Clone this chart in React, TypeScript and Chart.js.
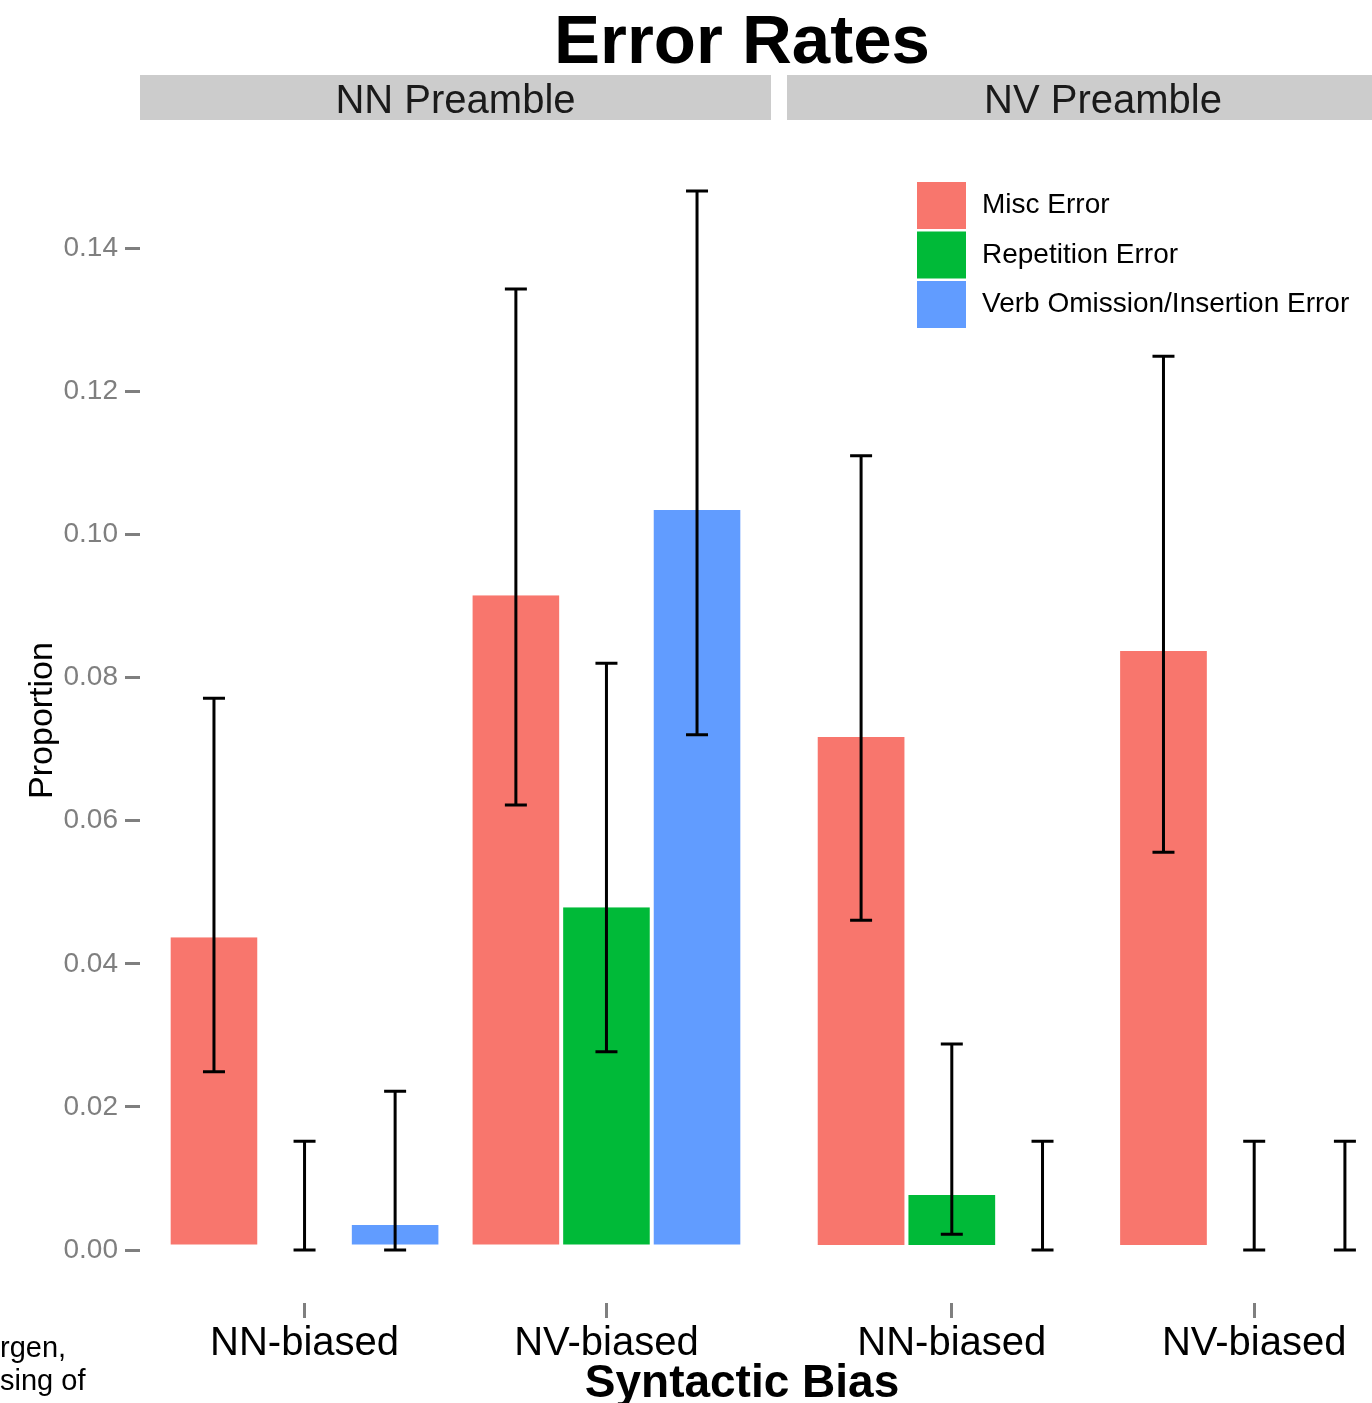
import React, { useEffect, useRef } from 'react';
import { Chart, registerables } from 'chart.js';

Chart.register(...registerables);

// ---------- data ----------
const chartTitle = 'Error Rates';
const xTitle = 'Syntactic Bias';
const yTitle = 'Proportion';
const categories = ['NN-biased', 'NV-biased'];
const facets = ['NN Preamble', 'NV Preamble'];
const seriesNames = ['Misc Error', 'Repetition Error', 'Verb Omission/Insertion Error'];
const seriesColors = ['#F8766D', '#00BA38', '#619CFF'];

// NN Preamble facet
const nnMisc = [0.0437, 0.0915];
const nnRep = [0.0, 0.0479];
const nnVerb = [0.0035, 0.1034];
const nnMiscLo = [0.0249, 0.0622];
const nnMiscHi = [0.0771, 0.1343];
const nnRepLo = [0.0, 0.0277];
const nnRepHi = [0.0152, 0.082];
const nnVerbLo = [0.0, 0.072];
const nnVerbHi = [0.0222, 0.148];

// NV Preamble facet
const nvMisc = [0.0717, 0.0837];
const nvRep = [0.0077, 0.0];
const nvVerb = [0.0, 0.0];
const nvMiscLo = [0.0461, 0.0556];
const nvMiscHi = [0.111, 0.1249];
const nvRepLo = [0.0022, 0.0];
const nvRepHi = [0.0288, 0.0152];
const nvVerbLo = [0.0, 0.0];
const nvVerbHi = [0.0152, 0.0152];

const yTicks = [0, 0.02, 0.04, 0.06, 0.08, 0.1, 0.12, 0.14];
const yTickLabels = ['0.00', '0.02', '0.04', '0.06', '0.08', '0.10', '0.12', '0.14'];
const yMin = -0.0074;
const yMax = 0.1554;
const xMin = -0.545;
const xMax = 1.545;

const clippedCaption = ['rgen,', 'sing of'];

const FONT = '"Liberation Sans", Arial, Helvetica, sans-serif';

function makeDatasets(vals: number[][], lo: number[][], hi: number[][]) {
  return seriesNames.map((name, s) => ({
    label: name,
    data: categories.map((_, i) => ({ x: i, y: vals[s][i] })),
    errLo: lo[s],
    errHi: hi[s],
    backgroundColor: seriesColors[s],
    borderColor: '#FFFFFF',
    borderWidth: { top: 0, left: 2, right: 2, bottom: 5 },
    borderSkipped: false,
    categoryPercentage: 0.9,
    barPercentage: 1.0,
  }));
}

function makePlugin(stripText: string, drawTitles: boolean, drawLegend: boolean) {
  return {
    id: 'facetDecor',
    afterDatasetsDraw(chart: any) {
      const ctx = chart.ctx;
      const yScale = chart.scales.y;
      ctx.save();
      ctx.strokeStyle = '#000000';
      ctx.lineWidth = 3;
      chart.data.datasets.forEach((ds: any, d: number) => {
        const meta = chart.getDatasetMeta(d);
        meta.data.forEach((bar: any, j: number) => {
          const x = bar.x;
          const yl = yScale.getPixelForValue(ds.errLo[j]);
          const yh = yScale.getPixelForValue(ds.errHi[j]);
          ctx.beginPath();
          ctx.moveTo(x, yl);
          ctx.lineTo(x, yh);
          ctx.moveTo(x - 11, yl);
          ctx.lineTo(x + 11, yl);
          ctx.moveTo(x - 11, yh);
          ctx.lineTo(x + 11, yh);
          ctx.stroke();
        });
      });
      ctx.restore();
    },
    afterDraw(chart: any) {
      const ctx = chart.ctx;
      const { left, right } = chart.chartArea;
      ctx.save();
      // strip
      ctx.fillStyle = '#CCCCCC';
      ctx.fillRect(left, 75, right - left, 45);
      ctx.fillStyle = '#1A1A1A';
      ctx.font = `40px ${FONT}`;
      ctx.textAlign = 'center';
      ctx.textBaseline = 'alphabetic';
      ctx.fillText(stripText, (left + right) / 2, 113);
      if (drawTitles) {
        ctx.fillStyle = '#000000';
        ctx.font = `bold 69px ${FONT}`;
        ctx.fillText(chartTitle, 742, 63);
        ctx.font = `bold 46px ${FONT}`;
        ctx.fillText(xTitle, 742, 1397);
      }
      if (drawLegend) {
        chart.data.datasets.forEach((ds: any, i: number) => {
          const top = 182 + i * 49.5;
          ctx.fillStyle = ds.backgroundColor;
          ctx.fillRect(917, top, 49, 47);
          ctx.fillStyle = '#000000';
          ctx.font = `28px ${FONT}`;
          ctx.textAlign = 'left';
          ctx.textBaseline = 'middle';
          ctx.fillText(ds.label, 982, top + 23.5);
        });
      }
      ctx.restore();
    },
  };
}

function makeOptions(showY: boolean, padLeft: number, padRight: number) {
  return {
    animation: false,
    responsive: false,
    events: [],
    layout: { padding: { left: padLeft, right: padRight, top: 138, bottom: 0 } },
    plugins: {
      legend: { display: false },
      title: { display: false },
      tooltip: { enabled: false },
    },
    scales: {
      x: {
        type: 'linear',
        min: xMin,
        max: xMax,
        offset: false,
        afterBuildTicks: (s: any) => {
          s.ticks = categories.map((_, i) => ({ value: i }));
        },
        afterFit: (s: any) => {
          s.height = 100;
        },
        ticks: {
          callback: (_v: any, i: number) => categories[i],
          font: { family: FONT, size: 40 },
          color: '#000000',
          padding: 2,
          autoSkip: false,
          maxRotation: 0,
        },
        grid: {
          display: true,
          drawOnChartArea: false,
          drawTicks: true,
          tickLength: 15,
          tickWidth: 3,
          tickColor: '#7F7F7F',
          offset: false,
        },
        border: { display: false },
      },
      y: {
        display: showY,
        min: yMin,
        max: yMax,
        afterBuildTicks: (s: any) => {
          s.ticks = yTicks.map((v) => ({ value: v }));
        },
        afterFit: (s: any) => {
          if (showY) s.width = 140;
        },
        ticks: {
          callback: (_v: any, i: number) => yTickLabels[i],
          font: { family: FONT, size: 28 },
          color: '#7F7F7F',
          padding: 7,
          autoSkip: false,
        },
        grid: {
          display: true,
          drawOnChartArea: false,
          drawTicks: true,
          tickLength: 15,
          tickWidth: 3,
          tickColor: '#7F7F7F',
        },
        border: { display: false },
        title: {
          display: true,
          text: yTitle,
          font: { family: FONT, size: 34 },
          color: '#000000',
          padding: { top: 22, bottom: 0 },
        },
      },
    },
  };
}

export default function App() {
  const refA = useRef<HTMLCanvasElement | null>(null);
  const refB = useRef<HTMLCanvasElement | null>(null);

  useEffect(() => {
    const chartA = new Chart(refA.current as HTMLCanvasElement, {
      type: 'bar',
      data: {
        datasets: makeDatasets(
          [nnMisc, nnRep, nnVerb],
          [nnMiscLo, nnRepLo, nnVerbLo],
          [nnMiscHi, nnRepHi, nnVerbHi]
        ) as any,
      },
      options: makeOptions(true, 0, 1372 - 771) as any,
      plugins: [makePlugin(facets[0], true, false)],
    });
    const chartB = new Chart(refB.current as HTMLCanvasElement, {
      type: 'bar',
      data: {
        datasets: makeDatasets(
          [nvMisc, nvRep, nvVerb],
          [nvMiscLo, nvRepLo, nvVerbLo],
          [nvMiscHi, nvRepHi, nvVerbHi]
        ) as any,
      },
      options: makeOptions(false, 787, 1) as any,
      plugins: [makePlugin(facets[1], false, true)],
    });
    return () => {
      chartA.destroy();
      chartB.destroy();
    };
  }, []);

  return (
    <div
      style={{
        position: 'absolute',
        left: 0,
        top: 0,
        width: 1372,
        height: 1403,
        overflow: 'hidden',
        background: '#FFFFFF',
      }}
    >
      <canvas
        ref={refA}
        width={1372}
        height={1403}
        style={{ position: 'absolute', left: 0, top: 0 }}
      />
      <canvas
        ref={refB}
        width={1420}
        height={1403}
        style={{ position: 'absolute', left: 0, top: 0 }}
      />
      <div
        style={{
          position: 'absolute',
          left: 0,
          top: 1331,
          font: `29px ${FONT}`,
          lineHeight: '33px',
          color: '#000000',
          whiteSpace: 'pre',
        }}
      >
        {clippedCaption.map((t, i) => (
          <div key={i}>{t}</div>
        ))}
      </div>
    </div>
  );
}
